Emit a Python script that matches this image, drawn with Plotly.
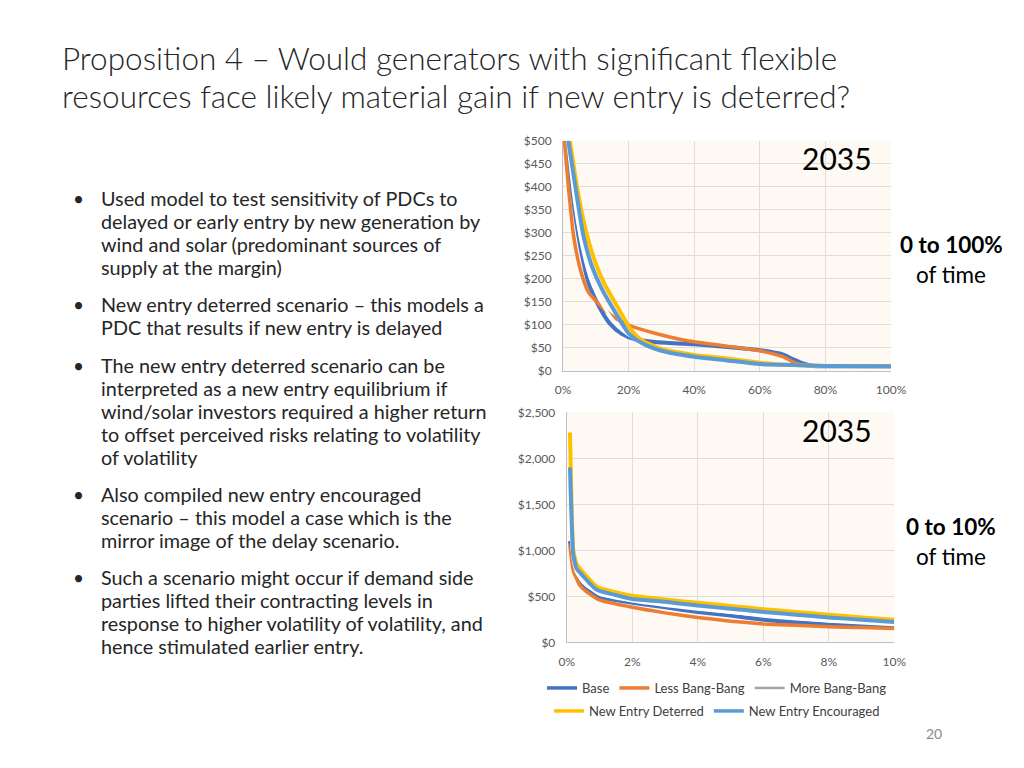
import plotly.graph_objects as go

W, H = 1024, 768

# ---------------- data ----------------
series_names = ["Base", "Less Bang-Bang", "More Bang-Bang", "New Entry Deterred", "New Entry Encouraged"]
series_colors = ["#4472c4", "#ed7d31", "#ffffff", "#ffc000", "#5b9bd5"]
legend_colors = ["#4472c4", "#ed7d31", "#a5a5a5", "#ffc000", "#5b9bd5"]
series_widths = [4, 3.5, 3, 4, 4]

# Top chart: 0 to 100% of time (x in %, y in $)
top_base_x = [1.1, 3.2, 5.2, 7.7, 10.8, 14.3, 17.9, 22, 28, 40, 50, 60, 67, 70, 73.5, 76.5, 85, 100]
top_base_y = [500, 367, 273, 193, 142, 102, 80, 68, 62, 57, 51, 44, 35, 25, 15, 10, 9, 9]

top_less_x = [0.4, 1.6, 3.2, 5.2, 7.7, 10.8, 15.3, 20, 28, 37, 50, 60, 67, 71, 75, 85, 100]
top_less_y = [500, 403, 294, 222, 171, 146, 117, 99, 81, 66, 53, 43, 30, 16, 10, 9, 9]

top_more_x = [1.4, 3.5, 5.7, 8.7, 12.8, 16.9, 20, 25, 30, 40, 50, 60, 70, 80, 100]
top_more_y = [500, 367, 273, 193, 135, 95, 77, 57, 43, 30, 22, 14, 12, 10, 9]

top_det_x = [2.1, 4.2, 6.8, 9.8, 12.8, 16.9, 20.4, 24, 30, 40, 50, 60, 70, 80, 100]
top_det_y = [500, 403, 309, 236, 186, 135, 92, 66, 47, 34, 26, 17, 12, 10, 9]

top_enc_x = [1.6, 3.7, 6.2, 8.7, 11.8, 15.9, 20, 24, 30, 40, 50, 60, 70, 80, 100]
top_enc_y = [500, 403, 294, 229, 178, 127, 81, 60, 43, 30, 22, 14, 12, 10, 9]

# Bottom chart: 0 to 10% of time
bot_base_x = [0.1, 0.2, 0.3, 0.5, 0.7, 1, 2, 3, 4, 5, 6, 7, 8, 9, 10]
bot_base_y = [1100, 850, 720, 600, 550, 490, 430, 380, 330, 290, 245, 215, 195, 185, 175]

bot_less_x = [0.1, 0.2, 0.4, 0.6, 1, 2, 3, 4, 5, 6, 7, 8, 9, 10]
bot_less_y = [1050, 780, 620, 550, 460, 380, 320, 270, 230, 200, 185, 170, 160, 150]

bot_more_x = [0.1, 0.2, 0.3, 0.5, 1, 2, 4, 6, 8, 10]
bot_more_y = [1300, 900, 760, 650, 520, 450, 360, 290, 230, 190]

bot_det_x = [0.1, 0.2, 0.3, 0.5, 0.7, 0.9, 1, 1.5, 2, 3, 4, 5, 6, 7, 8, 9, 10]
bot_det_y = [2280, 1000, 850, 760, 680, 610, 590, 545, 505, 465, 430, 395, 360, 330, 300, 270, 245]

bot_enc_x = [0.1, 0.2, 0.3, 0.5, 0.7, 0.9, 1, 2, 3, 4, 5, 6, 7, 8, 9, 10]
bot_enc_y = [1900, 950, 800, 720, 640, 575, 560, 470, 440, 400, 365, 330, 300, 270, 245, 220]

top_x_ticks = [0, 20, 40, 60, 80, 100]
top_x_labels = ["0%", "20%", "40%", "60%", "80%", "100%"]
top_y_ticks = [0, 50, 100, 150, 200, 250, 300, 350, 400, 450, 500]
top_y_labels = ["$0", "$50", "$100", "$150", "$200", "$250", "$300", "$350", "$400", "$450", "$500"]
bot_x_ticks = [0, 2, 4, 6, 8, 10]
bot_x_labels = ["0%", "2%", "4%", "6%", "8%", "10%"]
bot_y_ticks = [0, 500, 1000, 1500, 2000, 2500]
bot_y_labels = ["$0", "$500", "$1,000", "$1,500", "$2,000", "$2,500"]

title_lines = [
    "Proposition 4 \u2013 Would generators with significant flexible",
    "resources face likely material gain if new entry is deterred?",
]
bullets = [
    ["Used model to test sensitivity of PDCs to",
     "delayed or early entry by new generation by",
     "wind and solar (predominant sources of",
     "supply at the margin)"],
    ["New entry deterred scenario \u2013 this models a",
     "PDC that results if new entry is delayed"],
    ["The new entry deterred scenario can be",
     "interpreted as a new entry equilibrium if",
     "wind/solar investors required a higher return",
     "to offset perceived risks relating to volatility",
     "of volatility"],
    ["Also compiled new entry encouraged",
     "scenario \u2013 this model a case which is the",
     "mirror image of the delay scenario."],
    ["Such a scenario might occur if demand side",
     "parties lifted their contracting levels in",
     "response to higher volatility of volatility, and",
     "hence stimulated earlier entry."],
]
bullet_first_y = [198, 304, 365, 494, 577]

# ---------------- helpers ----------------
OFF = 8  # page body margin offset

def px(x):
    return (x - OFF) / W

def py(y):
    return 1 - (y - OFF) / H

FONT = "Lato, 'Open Sans', sans-serif"

fig = go.Figure()

top_data = [(top_base_x, top_base_y), (top_less_x, top_less_y), (top_more_x, top_more_y),
            (top_det_x, top_det_y), (top_enc_x, top_enc_y)]
bot_data = [(bot_base_x, bot_base_y), (bot_less_x, bot_less_y), (bot_more_x, bot_more_y),
            (bot_det_x, bot_det_y), (bot_enc_x, bot_enc_y)]

for i, (xs, ys) in enumerate(top_data):
    fig.add_trace(go.Scatter(x=xs, y=ys, mode="lines", name=series_names[i],
                             line=dict(color=series_colors[i], width=series_widths[i],
                                       shape="spline", smoothing=0.6),
                             xaxis="x", yaxis="y", showlegend=False, hoverinfo="skip"))

for i, (xs, ys) in enumerate(bot_data):
    fig.add_trace(go.Scatter(x=xs, y=ys, mode="lines", name=series_names[i],
                             line=dict(color=series_colors[i], width=series_widths[i],
                                       shape="spline", smoothing=0.4),
                             xaxis="x2", yaxis="y2", showlegend=False, hoverinfo="skip"))

# legend entries
for i, name in enumerate(series_names):
    fig.add_trace(go.Scatter(x=[None], y=[None], mode="lines", name=name,
                             line=dict(color=legend_colors[i], width=3.5 if i != 2 else 2.5),
                             xaxis="x2", yaxis="y2", showlegend=True,
                             legend="legend" if i < 3 else "legend2"))

axis_common = dict(showgrid=True, gridcolor="#e0ddd8", gridwidth=1, zeroline=False,
                   showline=True, linecolor="#bfbfbf", linewidth=1,
                   tickfont=dict(family=FONT, size=12, color="#595959"), ticks="",
                   fixedrange=True, tickmode="array")

fig.update_layout(
    width=W, height=H, margin=dict(l=0, r=0, t=0, b=0, autoexpand=False),
    paper_bgcolor="white", plot_bgcolor="#fef9f2",
    font=dict(family=FONT, color="#262626"),
    xaxis=dict(domain=[px(563), px(891)], anchor="y", range=[0, 100], tickvals=top_x_ticks,
               ticktext=top_x_labels, ticklabelstandoff=8, **axis_common),
    yaxis=dict(domain=[py(370.5), py(140.7)], anchor="x", range=[0, 500], tickvals=top_y_ticks,
               ticktext=top_y_labels, ticklabelstandoff=8, **axis_common),
    xaxis2=dict(domain=[px(566.7), px(894.3)], anchor="y2", range=[0, 10], tickvals=bot_x_ticks,
                ticktext=bot_x_labels, ticklabelstandoff=8, **axis_common),
    yaxis2=dict(domain=[py(642.3), py(412.3)], anchor="x2", range=[0, 2500], tickvals=bot_y_ticks,
                ticktext=bot_y_labels, ticklabelstandoff=8, **axis_common),
    legend=dict(orientation="h", x=px(717), xanchor="center", y=py(688), yanchor="middle",
                font=dict(family=FONT, size=13, color="#404040"), bgcolor="rgba(0,0,0,0)",
                itemwidth=30, tracegroupgap=0),
    legend2=dict(orientation="h", x=px(717), xanchor="center", y=py(711), yanchor="middle",
                 font=dict(family=FONT, size=13, color="#404040"), bgcolor="rgba(0,0,0,0)",
                 itemwidth=30, tracegroupgap=0),
    showlegend=True,
)

annotations = []
# Title
for j, t in enumerate(title_lines):
    annotations.append(dict(text=t, x=px(60), y=py(58 + 38 * j), xref="paper", yref="paper",
                            xanchor="left", yanchor="middle", showarrow=False,
                            font=dict(family=FONT, size=31.5, color="#262626", weight=300)))
# Bullets
for b, lines in enumerate(bullets):
    y0 = bullet_first_y[b]
    annotations.append(dict(text="\u2022", x=px(78), y=py(y0), xref="paper", yref="paper",
                            xanchor="center", yanchor="middle", showarrow=False,
                            font=dict(family=FONT, size=19, color="#262626")))
    for k, line in enumerate(lines):
        annotations.append(dict(text=line, x=px(99), y=py(y0 + 23 * k), xref="paper", yref="paper",
                                xanchor="left", yanchor="middle", showarrow=False,
                                font=dict(family=FONT, size=19.8, color="#262626")))
# Year labels
for yy in (158, 430):
    annotations.append(dict(text="2035", x=px(837), y=py(yy), xref="paper", yref="paper",
                            xanchor="center", yanchor="middle", showarrow=False,
                            font=dict(family=FONT, size=30, color="#000000")))
# Side labels
side = [("<b>0 to 100%</b>", 244), ("of time", 274), ("<b>0 to 10%</b>", 526), ("of time", 556)]
for t, yy in side:
    annotations.append(dict(text=t, x=px(951), y=py(yy), xref="paper", yref="paper",
                            xanchor="center", yanchor="middle", showarrow=False,
                            font=dict(family=FONT, size=22.5, color="#000000")))
# Page number
annotations.append(dict(text="20", x=px(934), y=py(733), xref="paper", yref="paper",
                        xanchor="center", yanchor="middle", showarrow=False,
                        font=dict(family=FONT, size=14, color="#8c8c8c")))

fig.update_layout(annotations=annotations)

fig.write_html("out.html")
